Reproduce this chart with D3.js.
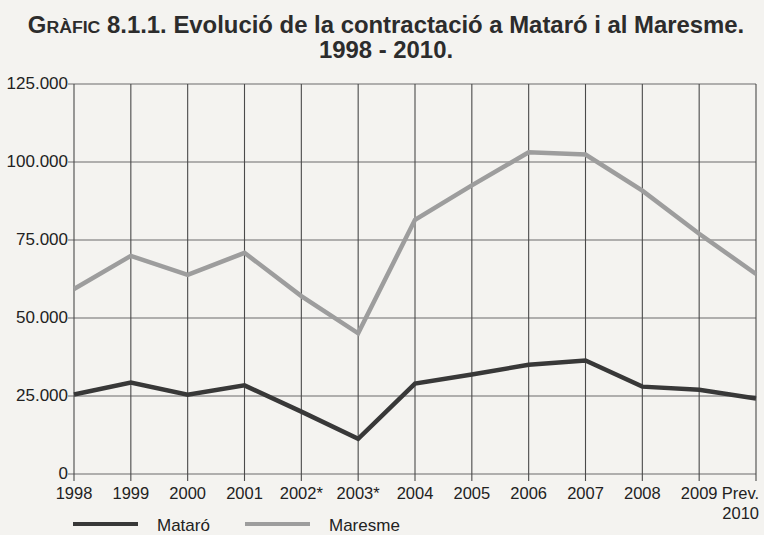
<!DOCTYPE html>
<html>
<head>
<meta charset="utf-8">
<script src="https://cdn.jsdelivr.net/npm/d3@7"></script>
<style>
  body { margin: 0; background: #f4f3f0; }
  svg { display: block; }
  text { font-family: "Liberation Sans", Arial, Helvetica, sans-serif; fill: #222; }
</style>
</head>
<body>
<div id="chart"></div>
<script>
//Data (contracts per year)
let years = ["1998", "1999", "2000", "2001", "2002*", "2003*", "2004", "2005", "2006", "2007", "2008", "2009", "Prev. 2010"];
let mataro = [25500, 29300, 25400, 28400, 20000, 11300, 29000, 31900, 35000, 36400, 28000, 27000, 24200];
let maresme = [59300, 69900, 63800, 70900, 57000, 45100, 81500, 92500, 103100, 102400, 90800, 77000, 64100];
let yTicks = [0, 25000, 50000, 75000, 100000, 125000];

//Width and Height
let width = 764;
let height = 535;
let margin = {top: 84, right: 8, bottom: 62, left: 74};

//Colors
let colors = ["#383838", "#9d9d9d"];

let chart = d3.select("#chart")
  .append("svg")
  .attr("width", width)
  .attr("height", height);

//Scales
let x = d3.scalePoint()
  .domain(years)
  .range([margin.left, width - margin.right]);

let y = d3.scaleLinear()
  .domain([0, 125000])
  .range([height - margin.bottom + 1, margin.top]);

let fmt = d => d3.format(",")(d).replace(/,/g, ".");

//Title
let t1 = chart.append("text")
  .attr("x", 386)
  .attr("y", 33)
  .attr("text-anchor", "middle")
  .style("font-weight", "bold")
  .style("font-size", "23px")
  .style("fill", "#2c2c2c");
t1.append("tspan").text("G");
t1.append("tspan").style("font-size", "17px").text("RÀFIC");
t1.append("tspan").text(" 8.1.1. Evolució de la contractació a Mataró i al Maresme.");

let t2 = chart.append("text")
  .attr("x", 386)
  .attr("y", 58)
  .attr("text-anchor", "middle")
  .style("font-weight", "bold")
  .style("font-size", "23px")
  .style("fill", "#2c2c2c")
  .text("1998 - 2010.");

//squeeze title to a condensed look, same width as the picture
let w1 = t1.node().getComputedTextLength();
let k = 717 / w1;
t1.attr("transform", "translate(386,0) scale(" + k + ",1) translate(-386,0)");
t2.attr("transform", "translate(386,0) scale(" + k + ",1) translate(-386,0)");

//Horizontal grid
chart.append("g")
  .selectAll("line")
  .data(yTicks)
  .enter()
  .append("line")
  .attr("x1", margin.left - 6)
  .attr("x2", width - margin.right)
  .attr("y1", d => y(d))
  .attr("y2", d => y(d))
  .attr("stroke", "#6a6a6a")
  .attr("stroke-width", 1.1);

//Vertical grid
chart.append("g")
  .selectAll("line")
  .data(years)
  .enter()
  .append("line")
  .attr("x1", d => x(d))
  .attr("x2", d => x(d))
  .attr("y1", y(125000))
  .attr("y2", y(0) + 7)
  .attr("stroke", "#4a4a4a")
  .attr("stroke-width", 1.1);

//Y labels
chart.append("g")
  .selectAll("text")
  .data(yTicks)
  .enter()
  .append("text")
  .attr("x", margin.left - 6)
  .attr("y", d => y(d) + 5)
  .attr("text-anchor", "end")
  .style("font-size", "17px")
  .text(d => fmt(d));

//X labels
let xl = chart.append("g")
  .selectAll("text")
  .data(years)
  .enter()
  .append("text")
  .attr("x", d => x(d))
  .attr("y", y(0) + 25)
  .attr("text-anchor", (d, i) => i == years.length - 1 ? "end" : "middle")
  .style("font-size", "16.5px");

xl.filter((d, i) => i < years.length - 1).text(d => d);
xl.filter((d, i) => i == years.length - 1)
  .each(function(d) {
    let parts = d.split(" ");
    d3.select(this).append("tspan").attr("x", x(d) + 3).text(parts[0]);
    d3.select(this).append("tspan").attr("x", x(d) + 3).attr("dy", 20).text(parts[1]);
  });

//Lines
let line = d3.line()
  .x((d, i) => x(years[i]))
  .y(d => y(d));

chart.append("path")
  .datum(maresme)
  .attr("d", line)
  .attr("fill", "none")
  .attr("stroke", colors[1])
  .attr("stroke-width", 4.5);

chart.append("path")
  .datum(mataro)
  .attr("d", line)
  .attr("fill", "none")
  .attr("stroke", colors[0])
  .attr("stroke-width", 4.5);

//Legend
let legend = [{name: "Mataró", color: colors[0], x: 73}, {name: "Maresme", color: colors[1], x: 245}];

chart.append("g")
  .selectAll("line")
  .data(legend)
  .enter()
  .append("line")
  .attr("x1", d => d.x)
  .attr("x2", d => d.x + 65)
  .attr("y1", 524)
  .attr("y2", 524)
  .attr("stroke", d => d.color)
  .attr("stroke-width", 4);

chart.append("g")
  .selectAll("text")
  .data(legend)
  .enter()
  .append("text")
  .attr("x", d => d.x + 84)
  .attr("y", 531)
  .style("font-size", "17px")
  .text(d => d.name);
</script>
</body>
</html>
